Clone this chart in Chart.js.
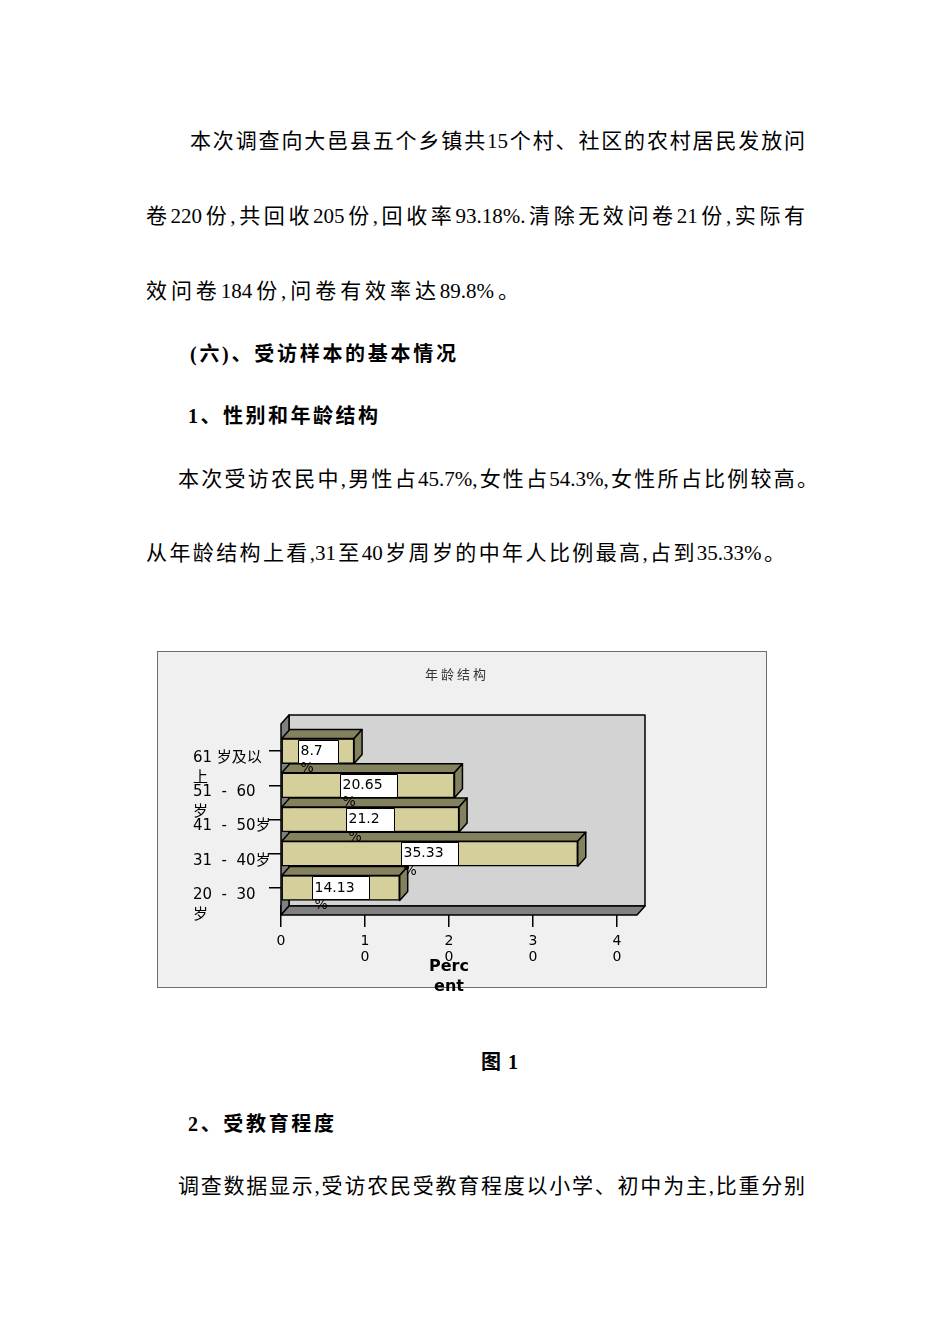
<!DOCTYPE html>
<html lang="zh">
<head>
<meta charset="utf-8">
<title>年龄结构</title>
<script src="https://cdn.jsdelivr.net/npm/chart.js@4.4.1/dist/chart.umd.min.js"></script>
<style>
    body { margin: 0; background: #fff; }
    #page {
        position: relative;
        width: 950px;
        height: 1344px;
        overflow: hidden;
        font-family: "Liberation Serif", "Noto Sans CJK SC", serif;
        font-size: 21px;
        color: #000;
    }
    .ln {
        position: absolute;
        height: 30px;
        line-height: 30px;
        white-space: nowrap;
    }
    .just {
        text-align: justify;
        text-align-last: justify;
    }
    .hd { font-weight: bold; font-size: 20px; }
    #chartBox { position: absolute; left: 157px; top: 651px; }
</style>
</head>
<body>
<div id="page">
    <div class="ln just" style="left:190px; top:126px; width:615px;">本次调查向大邑县五个乡镇共15个村、社区的农村居民发放问</div>
    <div class="ln just" style="left:146px; top:201px; width:659px;">卷220份,共回收205份,回收率93.18%.清除无效问卷21份,实际有</div>
    <div class="ln just" style="left:146px; top:276px; width:373px;">效问卷184份,问卷有效率达89.8%。</div>
    <div class="ln hd just" style="left:190px; top:339px; width:266px;">(六)、受访样本的基本情况</div>
    <div class="ln hd just" style="left:188px; top:401px; width:190px;">1、性别和年龄结构</div>
    <div class="ln just" style="left:178px; top:464px; width:640px;">本次受访农民中,男性占45.7%,女性占54.3%,女性所占比例较高。</div>
    <div class="ln just" style="left:146px; top:538px; width:639px;">从年龄结构上看,31至40岁周岁的中年人比例最高,占到35.33%。</div>

    <div id="chartBox"><canvas id="ageChart" width="611" height="360"></canvas></div>

    <div class="ln hd just" style="left:481px; top:1047px; width:37px;">图1</div>
    <div class="ln hd just" style="left:188px; top:1109px; width:146px;">2、受教育程度</div>
    <div class="ln just" style="left:178px; top:1171px; width:627px;">调查数据显示,受访农民受教育程度以小学、初中为主,比重分别</div>
</div>

<script>
// Chart data
const chartTitle = '年龄结构';
const ageGroups = ['61 岁及以上', '51 - 60 岁', '41 - 50 岁', '31 - 40 岁', '20 - 30 岁'];
// tick labels as they wrap in the picture
const ageTickLines = [['61 岁及以', '上'], ['51  -  60', '岁'], ['41  -  50岁'], ['31  -  40岁'], ['20  -  30', '岁']];
const percents = [8.7, 20.65, 21.2, 35.33, 14.13];
const axisTitle = ['Perc', 'ent'];

const FONT = '"DejaVu Sans", "Noto Sans CJK SC", sans-serif';
const FRONT = '#d4cf9b';
const SIDE = '#84815f';
const DX = 8, DY = 9;

function poly(ctx, pts, fill) {
    ctx.beginPath();
    ctx.moveTo(pts[0][0], pts[0][1]);
    for (let i = 1; i < pts.length; i++) ctx.lineTo(pts[i][0], pts[i][1]);
    ctx.closePath();
    ctx.fillStyle = fill;
    ctx.fill();
    ctx.stroke();
}

// Draws the frame, the 3D walls, bar tops/sides and value boxes
const sketch3d = {
    id: 'sketch3d',
    beforeDraw(chart) {
        const ctx = chart.ctx;
        ctx.save();
        ctx.fillStyle = '#f0f0f0';
        ctx.fillRect(0.5, 0.5, 609, 336);
        ctx.strokeStyle = '#6e6e6e';
        ctx.lineWidth = 1;
        ctx.strokeRect(0.5, 0.5, 609, 336);

        ctx.fillStyle = '#333';
        ctx.font = '13px "Noto Sans CJK SC"';
        ctx.textAlign = 'center';
        ctx.textBaseline = 'middle';
        ctx.letterSpacing = '3px';
        ctx.fillText(chartTitle, 300, 23);
        ctx.restore();
    },
    beforeDatasetsDraw(chart) {
        const ctx = chart.ctx;
        const a = chart.chartArea;
        const top = a.top - 10, bottom = a.bottom + 10, left = a.left, right = a.right + 20;
        ctx.save();
        ctx.strokeStyle = '#000';
        ctx.lineWidth = 1.5;
        ctx.lineJoin = 'round';
        // back wall
        poly(ctx, [[left + DX, top - DY], [right + DX, top - DY], [right + DX, bottom - DY], [left + DX, bottom - DY]], '#d3d3d3');
        // left wall
        poly(ctx, [[left, top], [left + DX, top - DY], [left + DX, bottom - DY], [left, bottom]], '#808080');
        // floor
        poly(ctx, [[left, bottom], [left + DX, bottom - DY], [right + DX, bottom - DY], [right, bottom]], '#808080');
        ctx.restore();
    },
    afterDatasetsDraw(chart) {
        const ctx = chart.ctx;
        const bars = chart.getDatasetMeta(0).data;
        ctx.save();
        ctx.strokeStyle = '#000';
        ctx.lineWidth = 1.5;
        ctx.lineJoin = 'round';
        bars.forEach(bar => {
            const p = bar.getProps(['x', 'y', 'base', 'height'], true);
            const t = p.y - p.height / 2, b = p.y + p.height / 2;
            poly(ctx, [[p.base, t], [p.base + DX, t - DY], [p.x + DX, t - DY], [p.x, t]], SIDE);
            poly(ctx, [[p.x, t], [p.x + DX, t - DY], [p.x + DX, b - DY], [p.x, b]], SIDE);
        });

        // value boxes; the "%" wraps below the box like in the original
        ctx.font = '14px ' + FONT;
        ctx.textAlign = 'left';
        ctx.textBaseline = 'middle';
        ctx.lineWidth = 1;
        bars.forEach((bar, i) => {
            const p = bar.getProps(['x', 'y', 'base', 'height'], true);
            const t = p.y - p.height / 2, b = p.y + p.height / 2;
            const txt = String(percents[i]);
            const w = Math.round(ctx.measureText(txt + '%').width + 4);
            const bx = Math.round((p.base + p.x) / 2 - w / 2) + 0.5;
            ctx.fillStyle = '#fff';
            ctx.fillRect(bx, Math.round(t) + 1.5, w, Math.round(p.height) - 2);
            ctx.strokeRect(bx, Math.round(t) + 1.5, w, Math.round(p.height) - 2);
            ctx.fillStyle = '#000';
            ctx.fillText(txt, bx + 2, p.y);
            ctx.fillText('%', bx + 2, b + 5);
        });
        ctx.restore();
    }
};

const ctx = document.getElementById('ageChart').getContext('2d');
new Chart(ctx, {
    type: 'bar',
    data: {
        labels: ageGroups,
        datasets: [{
            data: percents,
            backgroundColor: FRONT,
            borderColor: '#000',
            borderWidth: 1.5,
            borderSkipped: false,
            barThickness: 25
        }]
    },
    options: {
        indexAxis: 'y',
        responsive: false,
        animation: false,
        layout: {
            padding: { left: 36, right: 151, top: 83, bottom: 14 }
        },
        plugins: {
            legend: { display: false },
            title: { display: false },
            tooltip: { enabled: false }
        },
        scales: {
            x: {
                min: 0,
                max: 40,
                ticks: {
                    stepSize: 10,
                    padding: 6,
                    maxRotation: 0,
                    color: '#000',
                    font: { size: 14, family: FONT, lineHeight: '16px' },
                    callback: v => String(v).split('')
                },
                grid: { drawOnChartArea: false, tickLength: 22, color: '#000', lineWidth: 1.5 },
                border: { display: false },
                title: {
                    display: true,
                    text: axisTitle,
                    color: '#000',
                    padding: 0,
                    font: { size: 16, weight: 'bold', family: FONT, lineHeight: 1.25 }
                },
                afterFit(scale) { scale.height = 92; }
            },
            y: {
                ticks: {
                    crossAlign: 'far',
                    labelOffset: 7,
                    autoSkip: false,
                    color: '#000',
                    font: { size: 15, family: FONT, lineHeight: '20px' },
                    callback: (v, i) => {
                        const lines = ageTickLines[i];
                        return lines.length > 1 ? [''].concat(lines) : lines;
                    }
                },
                grid: { drawOnChartArea: false, offset: false, tickLength: 12, color: '#000', lineWidth: 1.5 },
                border: { display: false },
                afterFit(scale) { scale.width = 88; }
            }
        }
    },
    plugins: [sketch3d]
});
</script>
</body>
</html>
